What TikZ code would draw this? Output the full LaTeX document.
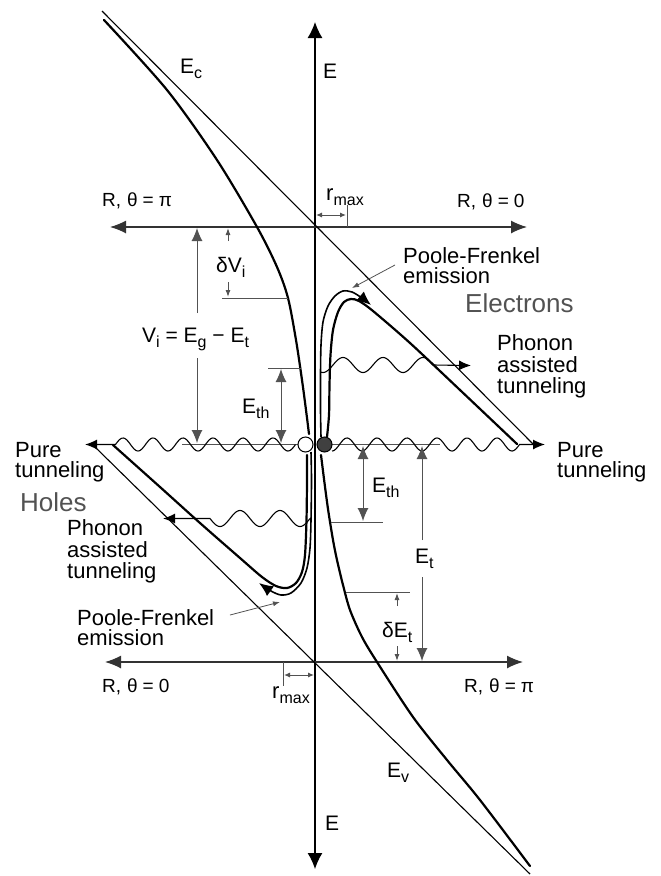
\documentclass[tikz,border=0pt]{standalone}
\usepackage{fontspec}
\setmainfont{Liberation Sans}
\usetikzlibrary{arrows.meta}
\definecolor{dimgray}{gray}{0.32}
\newcommand{\sbx}[1]{\raisebox{-5pt}{\fontsize{16}{16}\selectfont #1}}
\begin{document}
\begin{tikzpicture}[x=1pt,y=-1pt,
  axisline/.style={line width=1.3pt, black},
  haxis/.style={line width=1.3pt, black!80},
  thinband/.style={line width=1.1pt},
  thickband/.style={line width=2.2pt, line join=round, line cap=round},
  emispath/.style={line width=1.6pt},
  wavy/.style={line width=1.1pt},
  dimline/.style={line width=1pt, dimgray},
  bigtip/.style={-{Latex[length=13pt,width=11pt]}},
  bigtipboth/.style={{Latex[length=13pt,width=11pt]}-{Latex[length=13pt,width=11pt]}},
  smalltip/.style={-{Latex[length=7pt,width=5pt]}},
  smalltipboth/.style={{Latex[length=6pt,width=5pt]}-{Latex[length=6pt,width=5pt]}},
  blacktip/.style={-{Latex[length=12pt,width=10pt]}},
  lbl/.style={inner sep=0pt, anchor=base west, font=\fontsize{22}{22}\selectfont},
  elbl/.style={inner sep=0pt, anchor=base west, font=\fontsize{21}{21}\selectfont},
  rlbl/.style={inner sep=0pt, anchor=base west, font=\fontsize{19}{19}\selectfont},
  biglbl/.style={inner sep=0pt, anchor=base west, font=\fontsize{26}{26}\selectfont, text=dimgray}
]
\useasboundingbox (0,0) rectangle (661,876);

% axes
\draw[axisline, {Latex[length=16pt,width=15pt]}-{Latex[length=16pt,width=15pt]}] (315,869) -- (315,22);
\draw[haxis, {Latex[length=16pt,width=13pt]}-{Latex[length=16pt,width=13pt]}] (110,227) -- (527,227);
\draw[haxis, {Latex[length=16pt,width=13pt]}-{Latex[length=16pt,width=13pt]}] (105,662) -- (523,662);

% straight band edges
\draw[thinband] (102,11) -- (533,444);
\draw[thinband] (95,447) -- (530,874);

% trap level ticks
\draw[dimline, line width=0.8pt] (182,444.5) -- (298,444.5);
\draw[dimline, line width=0.8pt] (332,444.5) -- (440,444.5);

% Coulomb-modified band edges
\draw[thickband] plot[smooth] coordinates {(104,20) (167,90) (217,160) (257,227) (277,267) (288,298) (296,340) (302,380) (306,410) (309,434)};
\draw[thickband] plot[smooth] coordinates {(321,455) (324,479) (328,509) (333,540) (337,560) (343,585) (350,610) (362,637) (377,662) (413,717) (447,760) (480,800) (530,866)};
\draw[thickband] plot[smooth] coordinates {(327,437) (329,415) (329.5,385) (330.5,355) (333,330) (338,312) (344,302) (351,299) (359,301) (373,311) (410,343) (460,390) (517,444)};
\draw[thickband] plot[smooth] coordinates {(113,445) (160,487) (200,523) (240,558) (262,577) (276,586) (287,588) (296,583) (302,572) (305,555) (306.5,520) (307,480) (307,455)};

% emission paths
\draw[emispath, -{Latex[length=14pt,width=12pt]}] plot[smooth] coordinates {(321,437) (320.5,410) (320.5,375) (321,345) (323,322) (328,306) (335,296) (343,291) (352,292) (362,298) (371,305)};
\draw[emispath, -{Latex[length=14pt,width=12pt]}] plot[smooth] coordinates {(311,452) (311.5,480) (311,520) (310,548) (307,568) (301,583) (291,593) (281,595) (271,591) (259,583)};

% tunneling waves
\draw[wavy, blacktip] plot[domain=332:519.5, samples=160] (\x, {444.5 - 6.5*sin(12*(\x-339.5))}) -- (545,444.5);
\draw[wavy, blacktip] plot[domain=295.5:115.5, samples=160] (\x, {444.5 - 6.5*sin(12*(\x-265.5))}) -- (85,444.5);
\draw[wavy, blacktip] plot[domain=321:433, samples=100] (\x, {365 - 7.5*sin(9*(\x-333))}) -- (471,365.5);
\draw[wavy, blacktip] plot[domain=310:210, samples=100] (\x, {518.5 - 8*sin(9*(\x-230))}) -- (163,518.5);

% trap states
\draw[line width=1pt, fill=white] (305.5,444.5) circle[radius=7.5pt];
\draw[line width=1pt, fill=black!75] (324.5,444.5) circle[radius=7.5pt];

% dimension arrows
\draw[dimline, bigtip] (197,313) -- (197,228);
\draw[dimline, bigtip] (197,358) -- (197,443);
\draw[dimline, smalltip] (228,241) -- (228,228);
\draw[dimline, smalltip] (228,282) -- (228,297);
\draw[dimline] (222,298) -- (288,298);
\draw[dimline] (268,368) -- (301,368);
\draw[dimline, bigtipboth] (281,369) -- (281,443);
\draw[dimline] (331,522) -- (383,522);
\draw[dimline, bigtipboth] (363,446) -- (363,521);
\draw[dimline, bigtip] (422,540) -- (422,446);
\draw[dimline, bigtip] (422,577) -- (422,661);
\draw[dimline] (346,592) -- (410,592);
\draw[dimline, smalltip] (397,606) -- (397,593);
\draw[dimline, smalltip] (397,646) -- (397,661);
\draw[dimline] (347,205) -- (347,227);
\draw[dimline, smalltipboth] (316,215) -- (346,215);
\draw[dimline] (283,662) -- (283,686);
\draw[dimline, smalltipboth] (284,675) -- (314,675);
\draw[dimline, line width=0.8pt, smalltip] (395,265) -- (352,288);
\draw[dimline, line width=0.8pt, smalltip] (230,615) -- (280,602);

% labels
\node[rlbl] (rpiU) at (102,206) {R,\hspace{6pt}θ\hspace{5pt}=\hspace{5pt}π};
\node[rlbl] (r0U) at (457,207) {R,\hspace{6pt}θ\hspace{5pt}=\hspace{5pt}0};
\node[rlbl] (r0L) at (102,692) {R,\hspace{6pt}θ\hspace{5pt}=\hspace{5pt}0};
\node[rlbl] (rpiL) at (464,692) {R,\hspace{6pt}θ\hspace{5pt}=\hspace{5pt}π};
\node[elbl] (eU) at (323,78) {E};
\node[elbl] (eL) at (325,830) {E};
\node[elbl] (ec) at (180,73) {E\sbx{c}};
\node[elbl] (ev) at (387,777) {E\sbx{v}};
\node[elbl] (ethU) at (242,413) {E\sbx{th}};
\node[elbl] (ethL) at (372,492) {E\sbx{th}};
\node[elbl] (et) at (415,563) {E\sbx{t}};
\node[elbl] (det) at (382,637) {δE\sbx{t}};
\node[elbl] (dvi) at (216,272) {δV\sbx{i}};
\node[elbl] (vi) at (142,342) {V\sbx{i} = E\sbx{g} − E\sbx{t}};
\node[lbl] (rmU) at (326,200) {r\sbx{max}};
\node[lbl] (rmL) at (272,698) {r\sbx{max}};

\node[lbl] (pfU1) at (403,263) {Poole-Frenkel};
\node[lbl] (pfU2) at (403,283) {emission};
\node[lbl] (pfL1) at (77,625) {Poole-Frenkel};
\node[lbl] (pfL2) at (77,645) {emission};
\node[biglbl] (elec) at (465,312) {Electrons};
\node[biglbl] (hole) at (20,511) {Holes};
\node[lbl] (paR1) at (497,350) {Phonon};
\node[lbl] (paR2) at (497,372) {assisted};
\node[lbl] (paR3) at (497,393) {tunneling};
\node[lbl] (paL1) at (67,535) {Phonon};
\node[lbl] (paL2) at (67,557) {assisted};
\node[lbl] (paL3) at (67,578) {tunneling};
\node[lbl] (ptR1) at (557,457) {Pure};
\node[lbl] (ptR2) at (557,477) {tunneling};
\node[lbl] (ptL1) at (15,457) {Pure};
\node[lbl] (ptL2) at (15,477) {tunneling};
\end{tikzpicture}
\end{document}
